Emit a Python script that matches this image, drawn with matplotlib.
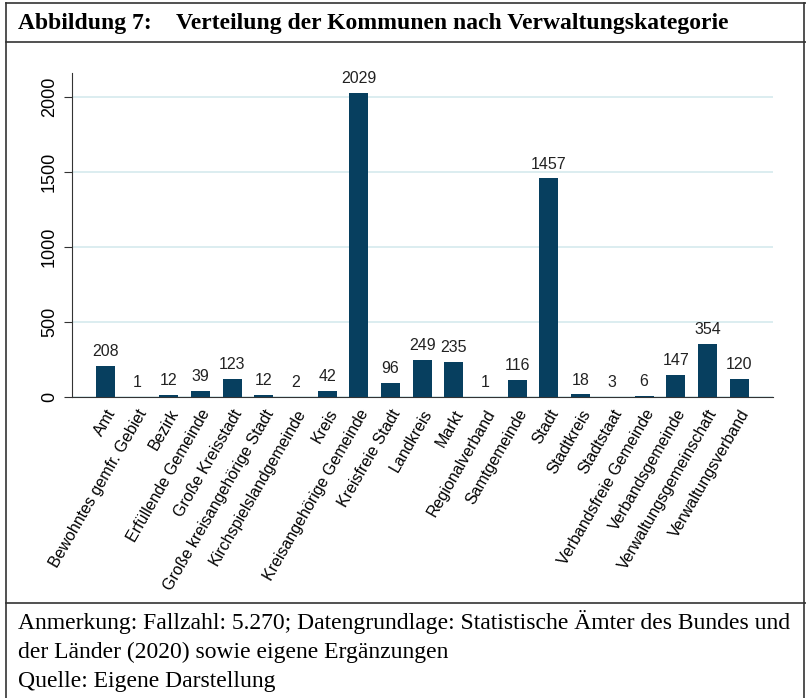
import matplotlib
matplotlib.use('Agg')
from matplotlib import pyplot as plt
from matplotlib.lines import Line2D
import numpy as np

categories = ['Amt', 'Bewohntes gemfr. Gebiet', 'Bezirk', 'Erfüllende Gemeinde',
              'Große Kreisstadt', 'Große kreisangehörige Stadt', 'Kirchspielslandgemeinde',
              'Kreis', 'Kreisangehörige Gemeinde', 'Kreisfreie Stadt', 'Landkreis', 'Markt',
              'Regionalverband', 'Samtgemeinde', 'Stadt', 'Stadtkreis', 'Stadtstaat',
              'Verbandsfreie Gemeinde', 'Verbandsgemeinde', 'Verwaltungsgemeinschaft',
              'Verwaltungsverband']
counts = [208, 1, 12, 39, 123, 12, 2, 42, 2029, 96, 249, 235, 1, 116, 1457, 18, 3, 6, 147, 354, 120]
yticks = [0, 500, 1000, 1500, 2000]

bar_color = '#073f5f'
grid_color = '#d5eaed'

fig = plt.figure(figsize=(8.06, 6.98), dpi=100)

# rahmen
def hline(y, x0=6 / 806, x1=1.0, lw=1.2):
    fig.add_artist(Line2D([x0, x1], [y, y], color='#333333', lw=lw, transform=fig.transFigure))

fig.add_artist(Line2D([6 / 806, 6 / 806], [0, 1 - 3 / 698], color='#333333', lw=1.2, transform=fig.transFigure))
fig.add_artist(Line2D([804 / 806, 804 / 806], [0, 1 - 3 / 698], color='#333333', lw=1.2, transform=fig.transFigure))
hline(1 - 3 / 698)
hline(1 - 42 / 698)
hline(1 - 603 / 698)

fig.text(18 / 806, 1 - 24 / 698, 'Abbildung 7:', family='Liberation Serif', weight='bold',
         fontsize=17, va='center', ha='left')
fig.text(176 / 806, 1 - 24 / 698, 'Verteilung der Kommunen nach Verwaltungskategorie',
         family='Liberation Serif', weight='bold', fontsize=17, va='center', ha='left')

note = ('Anmerkung: Fallzahl: 5.270; Datengrundlage: Statistische Ämter des Bundes und\n'
        'der Länder (2020) sowie eigene Ergänzungen\n'
        'Quelle: Eigene Darstellung')
fig.text(18 / 806, 1 - 610 / 698, note, family='Liberation Serif', fontsize=17,
         va='top', ha='left', linespacing=1.5)

ax = fig.add_axes([72 / 806, 301 / 698, 701 / 806, 324 / 698])
x = np.arange(len(categories))
bars = ax.bar(x, counts, width=0.6, color=bar_color, zorder=3)
for xi, v in zip(x, counts):
    ax.text(xi, v + 45, str(v), ha='center', va='bottom', fontsize=11.5,
            family='Liberation Sans', color='#222222')

ax.set_xlim(-1.05, len(categories) - 1 + 1.07)
ax.set_ylim(0, 2160)
ax.set_yticks(yticks)
ax.set_yticklabels([str(t) for t in yticks], rotation=90, va='center',
                   family='Liberation Sans', fontsize=13)
ax.set_xticks(x)
ax.set_xticklabels(categories, rotation=60, ha='right', rotation_mode='anchor',
                   family='Liberation Sans', fontsize=11.5)
ax.tick_params(axis='x', length=0, pad=7)
ax.tick_params(axis='y', length=6, color='#333333', pad=4)
ax.yaxis.grid(True, color=grid_color, lw=1.2, zorder=0)
for s in ['top', 'right']:
    ax.spines[s].set_visible(False)
ax.spines['left'].set_color('#333333')
ax.spines['bottom'].set_color('#333333')

plt.savefig('out.png', dpi=100)
